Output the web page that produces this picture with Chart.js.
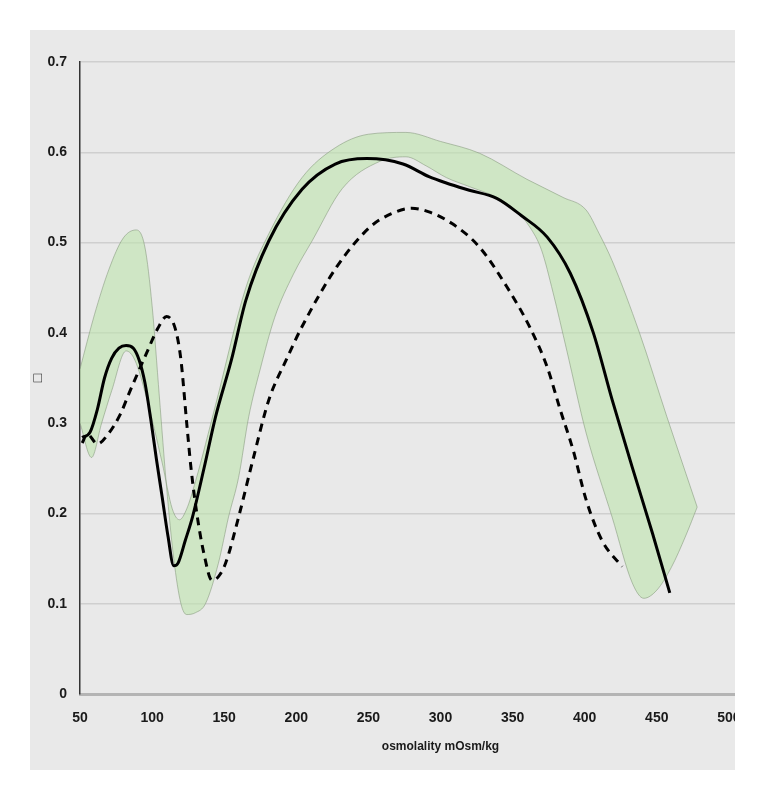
<!DOCTYPE html>
<html>
<head>
<meta charset="utf-8">
<script src="https://cdn.jsdelivr.net/npm/chart.js@4.4.1/dist/chart.umd.min.js"></script>
<style>
  html, body { margin:0; padding:0; background:#fff; }
  body { width:770px; height:802px; position:relative; overflow:hidden; }
  #panel { position:absolute; left:30px; top:30px; width:705px; height:740px; overflow:hidden; background:#e9e9e9; }
  #wrap { position:absolute; left:0; top:0; width:790px; height:740px; }
</style>
</head>
<body>
<div id="panel"><div id="wrap"><canvas id="chart"></canvas></div></div>
<script>
// axis ticks
const xTicks = [50, 100, 150, 200, 250, 300, 350, 400, 450, 500];
const yTicks = [0, 0.1, 0.2, 0.3, 0.4, 0.5, 0.6, 0.7];

// solid curve
const solidX = [51.5, 57, 62, 67, 72, 77, 82, 87, 91, 95, 99, 103, 107, 111, 115, 118, 123, 128, 136, 144, 155, 165, 181, 204, 227, 249, 274, 292, 304, 320, 339, 356, 374, 390, 406, 419, 433, 447, 459];
const solidY = [0.284, 0.29, 0.315, 0.35, 0.372, 0.383, 0.386, 0.383, 0.37, 0.345, 0.305, 0.26, 0.218, 0.175, 0.142, 0.145, 0.17, 0.196, 0.25, 0.307, 0.37, 0.436, 0.502, 0.559, 0.587, 0.593, 0.587, 0.573, 0.566, 0.558, 0.549, 0.53, 0.506, 0.466, 0.4, 0.326, 0.251, 0.178, 0.112];

// dashed curve
const dashX = [51.5, 55, 62, 70, 78, 84, 96, 104, 110, 116, 120, 124, 127, 131, 136, 141.5, 146, 151, 160, 170, 181, 193, 204, 228, 251, 266, 280, 292, 308, 327, 346, 362, 374, 383, 392, 401, 412, 426];
const dashY = [0.278, 0.288, 0.277, 0.289, 0.31, 0.333, 0.377, 0.405, 0.418, 0.405, 0.37, 0.3, 0.25, 0.2, 0.155, 0.126, 0.13, 0.145, 0.196, 0.26, 0.326, 0.37, 0.407, 0.473, 0.517, 0.532, 0.538, 0.534, 0.521, 0.495, 0.451, 0.406, 0.362, 0.315, 0.27, 0.215, 0.17, 0.141];

// green band, edge A
const bandAX = [50, 60, 70, 80, 89, 95, 100, 105, 110, 115, 120, 124, 130, 137, 146, 153, 160, 167, 175, 185, 198, 211, 232, 258, 276, 290, 304, 320, 339, 352, 362, 370, 378, 387.5, 401, 419, 433, 441, 450, 460, 470, 478];
const bandAY = [0.36, 0.42, 0.47, 0.505, 0.514, 0.495, 0.43, 0.33, 0.23, 0.15, 0.1, 0.088, 0.09, 0.1, 0.145, 0.196, 0.24, 0.307, 0.36, 0.417, 0.465, 0.502, 0.56, 0.59, 0.595, 0.585, 0.572, 0.562, 0.55, 0.536, 0.517, 0.492, 0.445, 0.381, 0.289, 0.196, 0.123, 0.106, 0.115, 0.14, 0.175, 0.207];

// green band, edge B
const bandBX = [50, 58, 65, 72, 82, 88, 96, 107, 114, 119, 124, 130, 144, 165, 181, 204, 227, 250, 276, 300, 327, 360, 385, 401, 410, 419, 438, 457, 478];
const bandBY = [0.30, 0.262, 0.30, 0.336, 0.38, 0.37, 0.329, 0.256, 0.205, 0.193, 0.205, 0.235, 0.32, 0.45, 0.51, 0.572, 0.605, 0.62, 0.622, 0.612, 0.599, 0.57, 0.55, 0.536, 0.51, 0.48, 0.4, 0.307, 0.207];

const pts = (xs, ys) => xs.map((x, i) => ({ x, y: ys[i] }));
const tickFont = { family: "'Liberation Sans Narrow', 'Liberation Sans', Arial, sans-serif", size: 14, weight: 'bold' };

new Chart(document.getElementById('chart'), {
  type: 'line',
  data: {
    datasets: [
      { label:'solid', data:pts(solidX, solidY), borderColor:'#000', borderWidth:3, pointRadius:0, fill:false, cubicInterpolationMode:'monotone', order:0 },
      { label:'dashed', data:pts(dashX, dashY), borderColor:'#000', borderWidth:3, borderDash:[8, 6], pointRadius:0, fill:false, cubicInterpolationMode:'monotone', order:1 },
      { label:'bandA', data:pts(bandAX, bandAY), borderColor:'rgba(130,150,120,0.55)', borderWidth:1, pointRadius:0, fill:false, cubicInterpolationMode:'monotone', order:2 },
      { label:'bandB', data:pts(bandBX, bandBY), borderColor:'rgba(130,150,120,0.55)', borderWidth:1, pointRadius:0, fill:'-1', backgroundColor:'rgba(190,228,175,0.62)', cubicInterpolationMode:'monotone', order:3 }
    ]
  },
  options: {
    responsive:true, maintainAspectRatio:false, animation:false,
    layout:{ padding:{ top:32, right:19, bottom:16, left:0 } },
    plugins:{ legend:{ display:false }, tooltip:{ enabled:false } },
    scales:{
      x:{
        type:'linear', min:50, max:550,
        afterBuildTicks: s => { s.ticks = xTicks.map(v => ({ value:v })); },
        afterFit: s => { s.height = 60; },
        grid:{ display:false },
        border:{ color:'#b4b4b4', width:3 },
        ticks:{ color:'#1a1a1a', font:tickFont, padding:8, maxRotation:0, callback: v => String(v) },
        title:{ display:true, text:'osmolality mOsm/kg', color:'#1a1a1a', font:{ family:tickFont.family, size:12, weight:'bold' }, padding:{ top:4, bottom:0 } }
      },
      y:{
        min:0, max:0.7,
        afterBuildTicks: s => { s.ticks = yTicks.map(v => ({ value:v })); },
        afterFit: s => { s.width = 50; },
        grid:{ color:'#cfcfcf', lineWidth:1.5, drawTicks:false },
        border:{ color:'#333', width:1.5 },
        ticks:{ color:'#1a1a1a', font:tickFont, padding:13, callback: v => v === 0 ? '0' : v.toFixed(1) },
        title:{ display:true, text:'□', color:'#1a1a1a', font:{ family:tickFont.family, size:14, weight:'bold' }, padding:{ top:0, bottom:0 } }
      }
    }
  }
});
</script>
</body>
</html>
